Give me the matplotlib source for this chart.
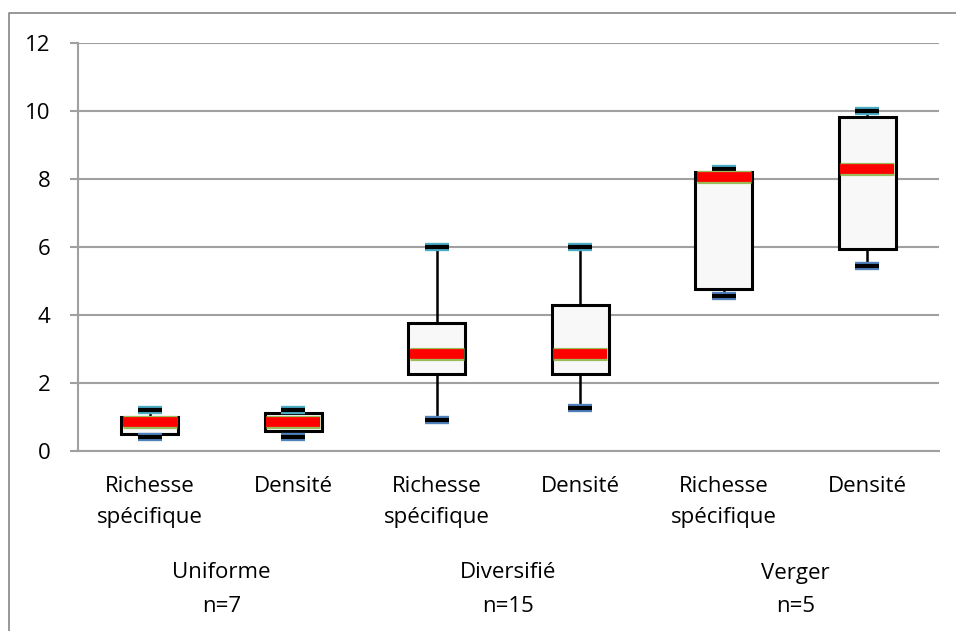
import matplotlib
matplotlib.use("Agg")
import matplotlib.pyplot as plt
import matplotlib.patheffects as pe
from matplotlib.lines import Line2D
from matplotlib.transforms import blended_transform_factory

plt.rcParams['font.family'] = ['Open Sans', 'DejaVu Sans']

# box plot values
categories = ["Richesse\nspécifique", "Densité",
              "Richesse\nspécifique", "Densité",
              "Richesse\nspécifique", "Densité"]
whisk_lo = [0.4, 0.4, 0.9, 1.25, 4.55, 5.45]
q1       = [0.5, 0.6, 2.25, 2.25, 4.75, 5.93]
medians  = [0.85, 0.85, 2.85, 2.85, 8.05, 8.28]
q3       = [1.0, 1.12, 3.75, 4.3, 8.2, 9.82]
whisk_hi = [1.2, 1.2, 6.0, 6.0, 8.28, 10.0]
groups   = ["Uniforme\nn=7", "Diversifié\nn=15", "Verger\nn=5"]

fig = plt.figure(figsize=(9.56, 6.31), dpi=100)
ax = fig.add_axes([0.0816, 0.2853, 0.9006, 0.6466])

stats = []
for i in range(len(categories)):
    stats.append(dict(whislo=whisk_lo[i], q1=q1[i], med=medians[i],
                      q3=q3[i], whishi=whisk_hi[i], fliers=[]))

pos = list(range(len(categories)))
bp = ax.bxp(stats, positions=pos, widths=0.4, capwidths=0.19,
            patch_artist=True, showfliers=False,
            boxprops=dict(facecolor='#f8f8f8', edgecolor='black', linewidth=2.2),
            whiskerprops=dict(color='black', linewidth=1.8),
            capprops=dict(color='black', linewidth=3.0, solid_capstyle='butt'),
            medianprops=dict(color='#ff0000', linewidth=7.0, solid_capstyle='butt'),
            zorder=3)

for i, cap in enumerate(bp['caps']):
    edge = '#4f81bd' if i % 2 == 0 else '#4bacc6'
    cap.set_path_effects([pe.Stroke(linewidth=6.0, foreground=edge, capstyle='butt'),
                          pe.Normal()])
    x0, x1 = cap.get_xdata()
    cap.set_xdata([x0 + 0.012, x1 - 0.012])

for med in bp['medians']:
    x0, x1 = med.get_xdata()
    med.set_xdata([x0 + 0.012, x1 - 0.012])
    med.set_path_effects([pe.Stroke(linewidth=9.5, foreground='#9bbb59', capstyle='butt'),
                          pe.Normal()])

ax.set_xlim(-0.5, len(categories) - 0.5)
ax.set_ylim(0, 12)
ax.set_yticks(range(0, 13, 2))
ax.yaxis.grid(True, color='#a0a0a0', linewidth=1.5, zorder=0)
ax.set_axisbelow(True)
for s in ['top', 'right']:
    ax.spines[s].set_visible(False)
ax.spines['left'].set_color('#a0a0a0')
ax.spines['left'].set_linewidth(1.5)
ax.spines['bottom'].set_color('#a0a0a0')
ax.spines['bottom'].set_linewidth(1.5)
ax.tick_params(axis='y', length=6, width=1.5, color='#a0a0a0', labelsize=16, pad=14)
ax.tick_params(axis='x', length=0, labelsize=16, pad=18)
ax.set_xticks(pos)
ax.set_xticklabels(categories, linespacing=1.6)

trans = blended_transform_factory(ax.transData, fig.transFigure)
for g, name in enumerate(groups):
    line1, line2 = name.split("\n")
    xc = 2 * g + 0.5
    ax.text(xc, 1 - 573 / 631, line1, transform=trans, ha='center', va='center', fontsize=16)
    ax.text(xc, 1 - 606 / 631, line2, transform=trans, ha='center', va='center', fontsize=16)

# outer chart frame
fig.add_artist(Line2D([9 / 956, 9 / 956, 1.0], [0.0, 1 - 13 / 631, 1 - 13 / 631],
                      transform=fig.transFigure, color='#868686', linewidth=1.2))

fig.savefig("out.png", dpi=100)
